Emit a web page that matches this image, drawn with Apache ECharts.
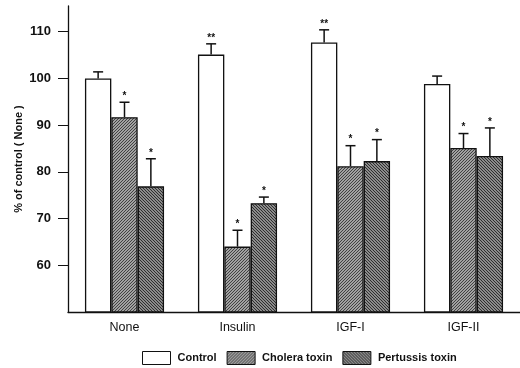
<!DOCTYPE html>
<html><head><meta charset="utf-8">
<script src="https://cdn.jsdelivr.net/npm/echarts@6/dist/echarts.min.js"></script>
<style>html,body{margin:0;padding:0;background:#fff}#c{width:520px;height:368px}</style>
</head><body><div id="c"></div>
<script>
const categories = ['None', 'Insulin', 'IGF-I', 'IGF-II'];
const seriesNames = ['Control', 'Cholera toxin', 'Pertussis toxin'];
const control = [100, 105.1, 107.7, 98.8];
const controlErr = [101.4, 107.4, 110.4, 100.5];
const cholera = [91.7, 64.0, 81.2, 85.1];
const choleraErr = [94.9, 67.5, 85.6, 88.2];
const pertussis = [76.9, 73.3, 82.3, 83.4];
const pertussisErr = [82.8, 74.6, 86.9, 89.4];
const controlMark = ['', '**', '**', ''];
const choleraMark = ['*', '*', '*', '*'];
const pertussisMark = ['*', '*', '*', '*'];
const yTicks = [60, 70, 80, 90, 100, 110];

function hatch(dir, bg, fg, step, lw) {
  const c = document.createElement('canvas');
  c.width = step; c.height = step;
  const g = c.getContext('2d');
  g.fillStyle = bg; g.fillRect(0, 0, step, step);
  g.strokeStyle = fg; g.lineWidth = lw;
  g.beginPath();
  if (dir === '/') {
    g.moveTo(-1, 1); g.lineTo(1, -1);
    g.moveTo(0, step); g.lineTo(step, 0);
    g.moveTo(step - 1, step + 1); g.lineTo(step + 1, step - 1);
  } else {
    g.moveTo(-1, step - 1); g.lineTo(1, step + 1);
    g.moveTo(0, 0); g.lineTo(step, step);
    g.moveTo(step - 1, -1); g.lineTo(step + 1, 1);
  }
  g.stroke();
  return c;
}
const cholPat = { image: hatch('/', '#cccccc', '#3a3a3a', 3, 1.1), repeat: 'repeat' };
const pertPat = { image: hatch('\\', '#b8b8b8', '#2a2a2a', 3, 1.2), repeat: 'repeat' };

const fills = ['#ffffff', cholPat, pertPat];
const vals = [control, cholera, pertussis];
const errs = [controlErr, choleraErr, pertussisErr];
const marks = [controlMark, choleraMark, pertussisMark];
const GAP = 0.3;
const FONT = '"Liberation Sans", Arial, sans-serif';

const series = [];
for (let s = 0; s < 3; s++) {
  series.push({
    type: 'bar', name: seriesNames[s], data: vals[s],
    barGap: '0%', barCategoryGap: '30%',
    itemStyle: { color: fills[s], borderColor: '#111', borderWidth: 1.3 },
    z: 2
  });
}
for (let s = 0; s < 3; s++) {
  const data = categories.map((c, i) => [i, vals[s][i], errs[s][i], marks[s][i]]);
  series.push({
    type: 'custom', name: 'err' + s, data: data, z: 3, silent: true,
    renderItem: (function (idx) {
      return function (params, api) {
        const ci = api.value(0);
        const cx0 = api.coord([ci, 0])[0];
        const bw = api.size([1, 0])[0] * (1 - GAP) / 3;
        const cx = cx0 + (idx - 1) * bw;
        const yBar = api.coord([ci, api.value(1)])[1];
        const yTop = api.coord([ci, api.value(2)])[1];
        const mark = data[params.dataIndex][3];
        const st = { stroke: '#111', lineWidth: 1.5 };
        const ch = [
          { type: 'line', shape: { x1: cx, y1: yBar, x2: cx, y2: yTop }, style: st },
          { type: 'line', shape: { x1: cx - 5, y1: yTop, x2: cx + 5, y2: yTop }, style: st }
        ];
        if (mark) {
          ch.push({ type: 'text', style: { text: mark, x: cx, y: yTop - 6, align: 'center', verticalAlign: 'middle',
            font: 'bold 10px ' + FONT, fill: '#111' } });
        }
        return { type: 'group', children: ch };
      };
    })(s)
  });
}

const chart = echarts.init(document.getElementById('c'), null, { renderer: 'canvas' });
chart.setOption({
  animation: false,
  backgroundColor: '#fff',
  grid: { left: 68, top: 6, width: 456, height: 306 },
  legend: {
    data: seriesNames, left: 142, top: 351, itemWidth: 28, itemHeight: 13, itemGap: 10,
    icon: 'rect', padding: 0,
    itemStyle: { borderColor: '#111', borderWidth: 1 },
    textStyle: { fontFamily: FONT, fontSize: 11, fontWeight: 'bold', color: '#111', padding: [0, 0, 0, 2] }
  },
  xAxis: {
    type: 'category', data: categories,
    axisLine: { lineStyle: { color: '#111', width: 1.3 } },
    axisTick: { show: false },
    axisLabel: { margin: 9, fontSize: 12.5, color: '#111', fontFamily: FONT }
  },
  yAxis: {
    type: 'value', min: 50, max: 115.5,
    name: '% of control ( None )', nameLocation: 'middle', nameGap: 44, nameRotate: 90,
    nameMoveOverlap: false,
    nameTextStyle: { fontSize: 11, fontWeight: 'bold', color: '#111', fontFamily: FONT, padding: [0, 0, 0, 0] },
    splitLine: { show: false },
    axisLine: { show: true, lineStyle: { color: '#111', width: 1.3 } },
    axisTick: { show: true, length: 10, customValues: yTicks, lineStyle: { color: '#111' } },
    axisLabel: { customValues: yTicks, margin: 17, fontSize: 13, fontWeight: 'bold', color: '#111', fontFamily: FONT }
  },
  series: series
});
</script></body></html>
